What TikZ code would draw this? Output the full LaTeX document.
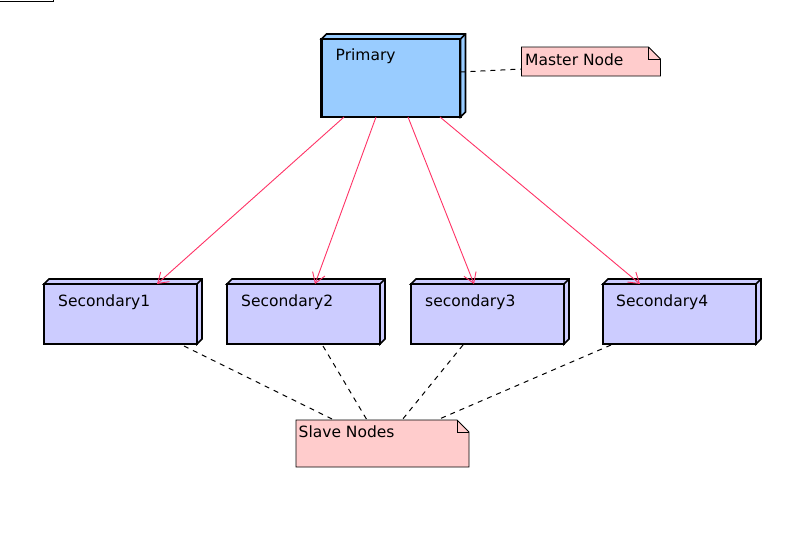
\documentclass[tikz,border=0pt]{standalone}
\usepackage{fontspec}
\setmainfont{DejaVu Sans}
\usetikzlibrary{arrows.meta,calc}

\definecolor{primfill}{HTML}{99CCFF}
\definecolor{secfill}{HTML}{CCCCFF}
\definecolor{notefill}{HTML}{FFCCCC}
\definecolor{linkred}{HTML}{FF3366}

\tikzset{
  txt/.style={font=\fontsize{15.5}{18}\selectfont},
  nodebox/.style={draw=black, line width=2.2pt, inner sep=0pt, outer sep=0pt,
    anchor=north west, line join=miter},
  primarybox/.style={nodebox, fill=primfill, minimum width=139pt, minimum height=78pt},
  secbox/.style={nodebox, fill=secfill, minimum width=153pt, minimum height=60pt},
  extrude/.style={draw=black, line width=1.6pt, line join=miter},
  noteanchor/.style={inner sep=0pt, outer sep=0pt, anchor=north west},
  notebody/.style={draw=black, line width=0.8pt, fill=notefill, line join=miter},
  link/.style={draw=linkred, line width=0.9pt, -{Straight Barb[length=10pt,width=13pt]}},
  notelink/.style={draw=black, line width=1pt, dash pattern=on 5pt off 5pt},
  boxlabel/.style={txt, anchor=base west, inner sep=0pt},
}

\begin{document}
\begin{tikzpicture}[x=1pt, y=-1pt]
\useasboundingbox (0,0) rectangle (800,558);

% edge of a frame running off the top-left corner
\draw[line width=1pt] (0,1.5) -- (53,1.5) -- (53,0);

% deployment nodes (front faces)
\node[primarybox, label={[boxlabel, xshift=14pt, yshift=-21pt]north west:Primary}] (P) at (321.5,39) {};
\node[secbox, label={[boxlabel, xshift=14pt, yshift=-22pt]north west:Secondary1}] (S1) at (44,284) {};
\node[secbox, label={[boxlabel, xshift=14pt, yshift=-22pt]north west:Secondary2}] (S2) at (227,284) {};
\node[secbox, label={[boxlabel, xshift=14pt, yshift=-22pt]north west:secondary3}] (S3) at (411,284) {};
\node[secbox, label={[boxlabel, xshift=13pt, yshift=-22pt]north west:Secondary4}] (S4) at (603,284) {};

% top and side faces of each box
\foreach \n/\c in {P/primfill, S1/secfill, S2/secfill, S3/secfill, S4/secfill} {
  \filldraw[extrude, fill=\c] (\n.north west) -- ++(5,-5)
    -- ($(\n.north east)+(5,-5)$) -- ($(\n.south east)+(5,-5)$)
    -- (\n.south east) -- (\n.north east) -- cycle;
  \draw[extrude] (\n.north east) -- ++(5,-5);
}

% notes
\node[noteanchor, minimum width=139pt, minimum height=29pt] (MN) at (521.5,47) {};
\node[noteanchor, minimum width=173pt, minimum height=47pt] (SN) at (296,420) {};
\foreach \n in {MN, SN} {
  \filldraw[notebody] (\n.north west) -- ($(\n.north east)+(-12,0)$)
    -- ($(\n.north east)+(0,12)$) -- (\n.south east) -- (\n.south west) -- cycle;
  \draw[notebody, fill=none] ($(\n.north east)+(-12,0)$) -- ++(0,12) -- ++(12,0);
}
\node[boxlabel] (MNt) at ($(MN.north west)+(3.5,18)$) {Master Node};
\node[boxlabel] (SNt) at ($(SN.north west)+(2.5,17)$) {Slave Nodes};

% links from the primary to each secondary
\draw[link] ($(P.south west)+(22.5,0)$) -- ($(S1.north west)+(113,0)$);
\draw[link] ($(P.south west)+(54.5,0)$) -- ($(S2.north west)+(88,0)$);
\draw[link] ($(P.south west)+(86.5,0)$) -- ($(S3.north west)+(63,0)$);
\draw[link] ($(P.south west)+(118.5,0)$) -- ($(S4.north west)+(37,0)$);

% note attachments
\draw[notelink] ($(P.north east)+(0,33)$) -- ($(MN.north west)+(0,22)$);
\draw[notelink] ($(S1.south west)+(140,2)$) -- ($(SN.north west)+(38,0)$);
\draw[notelink] ($(S2.south west)+(96,2)$) -- ($(SN.north west)+(71,0)$);
\draw[notelink] ($(S3.south west)+(52,1)$) -- ($(SN.north west)+(106,0)$);
\draw[notelink] ($(S4.south west)+(8,1)$) -- ($(SN.north west)+(141,0)$);
\end{tikzpicture}
\end{document}
